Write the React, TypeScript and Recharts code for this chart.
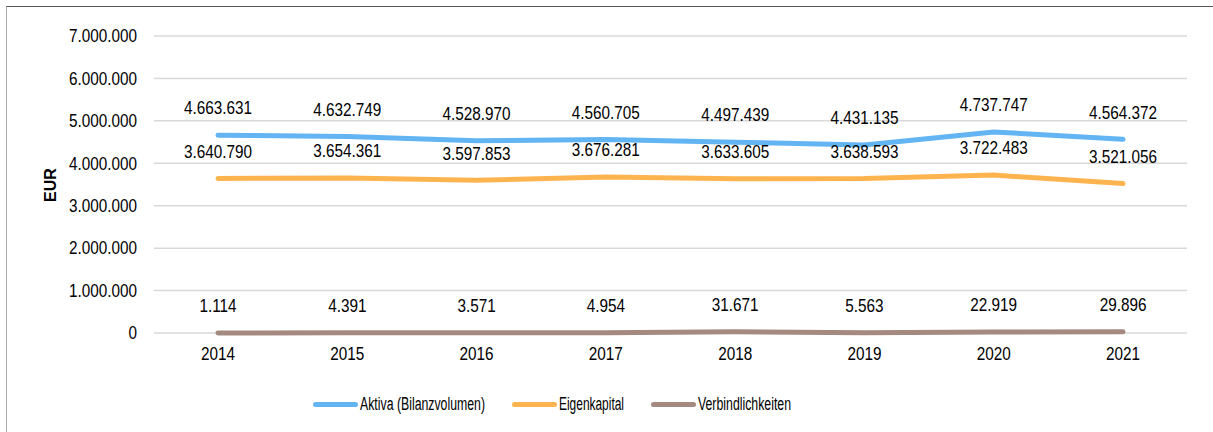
import React from 'react';
import { LineChart, Line, XAxis, YAxis, CartesianGrid, LabelList } from 'recharts';

const years = ['2014', '2015', '2016', '2017', '2018', '2019', '2020', '2021'];
const aktiva = [4663631, 4632749, 4528970, 4560705, 4497439, 4431135, 4737747, 4564372];
const eigenkapital = [3640790, 3654361, 3597853, 3676281, 3633605, 3638593, 3722483, 3521056];
const verbindlichkeiten = [1114, 4391, 3571, 4954, 31671, 5563, 22919, 29896];
const yTicks = [0, 1000000, 2000000, 3000000, 4000000, 5000000, 6000000, 7000000];

const seriesNames = ['Aktiva (Bilanzvolumen)', 'Eigenkapital', 'Verbindlichkeiten'];
const colors = ['#63b4f3', '#fdb44f', '#a3897f'];

const data = years.map((y, i) => ({
  year: y,
  aktiva: aktiva[i],
  eigenkapital: eigenkapital[i],
  verbindlichkeiten: verbindlichkeiten[i],
}));

const FONT = '"Liberation Sans", Arial, sans-serif';
const SX = 0.85;
const fmt = (v: number) => v.toString().replace(/\B(?=(\d{3})+(?!\d))/g, '.');

const keys = ['aktiva', 'eigenkapital', 'verbindlichkeiten'];

const YTick = (props: any) => {
  const { x, y, payload } = props;
  return (
    <g transform={`translate(${x},${y})`}>
      <text transform={`scale(${SX},1)`} textAnchor="end" dy="0.35em" fontSize={18} fontFamily={FONT} fill="#000">
        {fmt(Number(payload.value))}
      </text>
    </g>
  );
};

const XTick = (props: any) => {
  const { x, y, payload } = props;
  return (
    <g transform={`translate(${x},${y})`}>
      <text transform={`scale(${SX},1)`} textAnchor="middle" dy="0.75em" fontSize={18} fontFamily={FONT} fill="#000">
        {payload.value}
      </text>
    </g>
  );
};

const PointLabel = (props: any) => {
  const { x, y, value } = props;
  return (
    <g transform={`translate(${x},${Number(y) - 27})`}>
      <text transform={`scale(${SX},1)`} textAnchor="middle" dy="0.35em" fontSize={18} fontFamily={FONT} fill="#000">
        {fmt(Number(value))}
      </text>
    </g>
  );
};

const legendWidths = [125, 65, 93];

export default function App() {
  return (
    <div style={{ position: 'absolute', left: 6, top: 6, width: 1212, height: 430, borderLeft: '1px solid #aaaaaa', borderTop: '1px solid #555555', background: '#fff', fontFamily: FONT }}>
      <LineChart width={1206} height={425} data={data} margin={{ top: 29, right: 26, left: 0, bottom: 69 }}>
        <CartesianGrid vertical={false} stroke="#d9d9d9" strokeWidth={1.5} />
        <XAxis
          dataKey="year"
          axisLine={false}
          tickLine={false}
          tickMargin={7}
          padding={{ left: 64, right: 64 }}
          tick={<XTick />}
          height={30}
        />
        <YAxis
          width={147}
          domain={[0, 7000000]}
          ticks={yTicks}
          axisLine={false}
          tickLine={false}
          tickMargin={11}
          tick={<YTick />}
          label={() => (
            <text x={43} y={178} transform="rotate(-90 43 178)" textAnchor="middle" dominantBaseline="central" fontWeight="bold" fontSize={16} fontFamily={FONT} fill="#000">EUR</text>
          )}
        />
        {keys.map((k, i) => (
          <Line key={k} type="linear" dataKey={k} name={seriesNames[i]} stroke={colors[i]} strokeWidth={5} strokeLinecap="round" dot={false} isAnimationActive={false}>
            <LabelList dataKey={k} content={<PointLabel />} />
          </Line>
        ))}
      </LineChart>
      <div style={{ position: 'absolute', top: 383, left: 306, display: 'flex', alignItems: 'center', color: '#000' }}>
        {seriesNames.map((n, i) => (
          <div key={n} style={{ display: 'flex', alignItems: 'center', marginRight: i < 2 ? 27 : 0 }}>
            <div style={{ width: 45, height: 5, borderRadius: 3, background: colors[i], marginRight: 2 }} />
            <svg width={legendWidths[i]} height={28} style={{ display: 'block', overflow: 'visible' }}>
              <text x={0} y={20} fontSize={18} fontFamily={FONT} fill="#000" textLength={legendWidths[i]} lengthAdjust="spacingAndGlyphs">{n}</text>
            </svg>
          </div>
        ))}
      </div>
    </div>
  );
}
